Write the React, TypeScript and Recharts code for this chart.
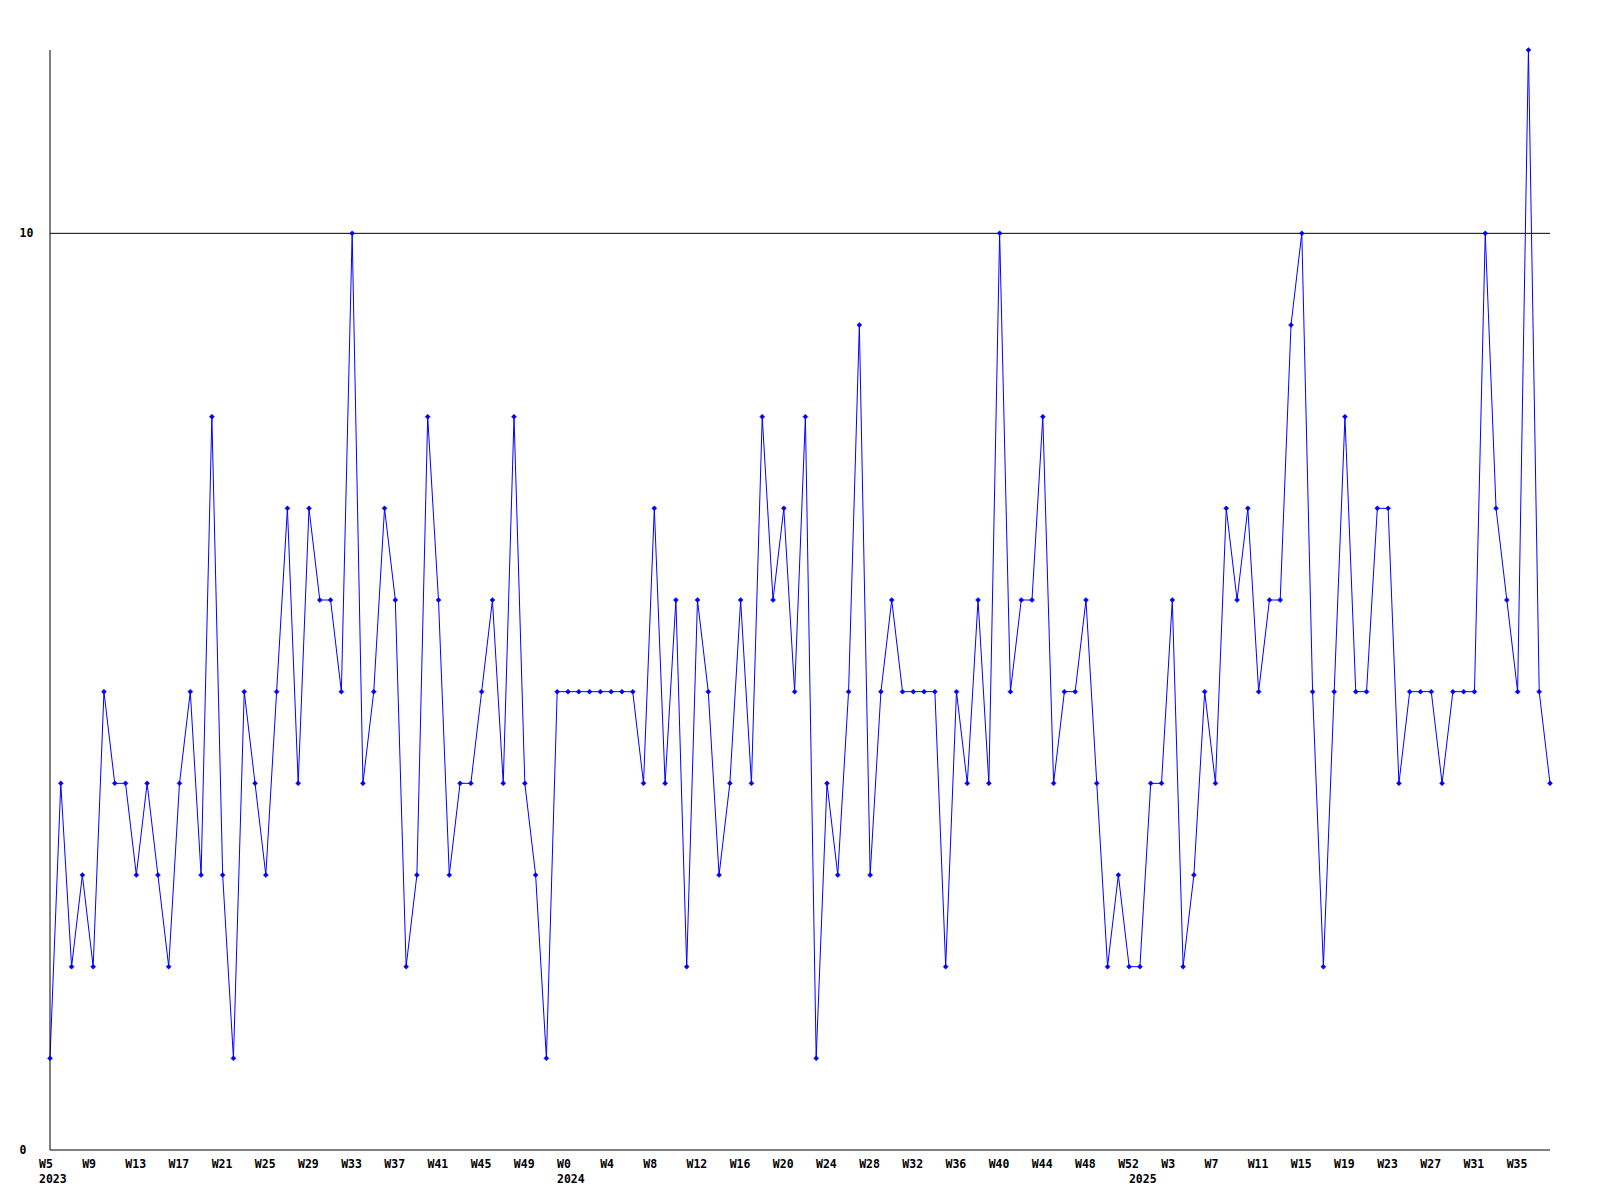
import React from "react";
import { LineChart, Line, XAxis, YAxis, ReferenceLine } from "recharts";

// weekly counts, one array per year
const years = [2023, 2024, 2025];
const firstWeeks = [5, 0, 0];

const values2023 = [
  1, 4, 2, 3, 2, 5, 4, 4, 3, 4, 3, 2, 4, 5, 3, 8, 3, 1, 5, 4, 3, 5, 7, 4,
  7, 6, 6, 5, 10, 4, 5, 7, 6, 2, 3, 8, 6, 3, 4, 4, 5, 6, 4, 8, 4, 3, 1, 5,
];
const values2024 = [
  5, 5, 5, 5, 5, 5, 5, 4, 7, 4, 6, 2, 6, 5, 3, 4, 6, 4, 8, 6, 7, 5, 8, 1,
  4, 3, 5, 9, 3, 5, 6, 5, 5, 5, 5, 2, 5, 4, 6, 4, 10, 5, 6, 6, 8, 4, 5, 5,
  6, 4, 2, 3, 2,
];
const values2025 = [
  2, 4, 4, 6, 2, 3, 5, 4, 7, 6, 7, 5, 6, 6, 9, 10, 5, 2, 5, 8, 5, 5, 7, 7,
  4, 5, 5, 5, 4, 5, 5, 5, 10, 7, 6, 5, 12, 5, 4,
];

const yTicks = [0, 10];
const yMax = 12;
const labelEvery = 4;

const seriesByYear = [values2023, values2024, values2025];

interface Row { i: number; year: number; week: number; count: number; }

const data: Row[] = [];
const yearStarts: number[] = [];
seriesByYear.forEach((vals, k) => {
  yearStarts.push(data.length);
  vals.forEach((v, j) => {
    data.push({ i: data.length, year: years[k], week: firstWeeks[k] + j, count: v });
  });
});

const xTicks = data
  .filter((d) => d.i % labelEvery === 0 || yearStarts.includes(d.i))
  .map((d) => d.i);

const labelFont = {
  fontFamily: "'DejaVu Sans Mono', monospace",
  fontWeight: "bold" as const,
  fontSize: 11.5,
  fill: "#000",
};

function WeekTick({ x, y, payload }: any) {
  const row = data[payload.value];
  if (!row) return null;
  const showWeek = row.i % labelEvery === 0;
  const showYear = yearStarts.includes(row.i);
  return (
    <g>
      {showWeek && (
        <text x={x - 11} y={y + 14} textAnchor="start" dominantBaseline="central" style={labelFont}>
          W{row.week}
        </text>
      )}
      {showYear && (
        <text x={x - 11} y={y + 29} textAnchor="start" dominantBaseline="central" style={labelFont}>
          {row.year}
        </text>
      )}
    </g>
  );
}

function CountTick({ x, y, payload }: any) {
  return (
    <text x={x - 30.5} y={y} textAnchor="start" dominantBaseline="central" style={labelFont}>
      {payload.value}
    </text>
  );
}

function Marker({ cx, cy }: any) {
  if (cx == null || cy == null) return null;
  return (
    <path
      d={`M${cx - 2.5},${cy} L${cx},${cy - 2.5} L${cx + 2.5},${cy} L${cx},${cy + 2.5} Z`}
      fill="#0000ff"
      stroke="#0000ff"
      strokeWidth={0.5}
    />
  );
}

export default function App() {
  return (
    <div style={{ position: "absolute", left: 0, top: 0, background: "#fff" }}>
      <LineChart
        width={1600}
        height={1200}
        data={data}
        margin={{ top: 50, right: 50, bottom: 0, left: 0 }}
      >
        <XAxis
          dataKey="i"
          type="number"
          domain={[0, data.length - 1]}
          ticks={xTicks}
          interval={0}
          height={50}
          tickSize={0}
          tickMargin={0}
          tickLine={false}
          axisLine={{ stroke: "#000", strokeWidth: 1 }}
          tick={<WeekTick />}
        />
        <YAxis
          type="number"
          domain={[0, yMax]}
          ticks={yTicks}
          interval={0}
          width={50}
          tickSize={0}
          tickMargin={0}
          tickLine={false}
          axisLine={{ stroke: "#000", strokeWidth: 1 }}
          tick={<CountTick />}
        />
        <ReferenceLine y={10} stroke="#000" strokeWidth={1} />
        <Line
          type="linear"
          dataKey="count"
          stroke="#0000ff"
          strokeWidth={1}
          dot={<Marker />}
          activeDot={false}
          isAnimationActive={false}
        />
      </LineChart>
    </div>
  );
}
